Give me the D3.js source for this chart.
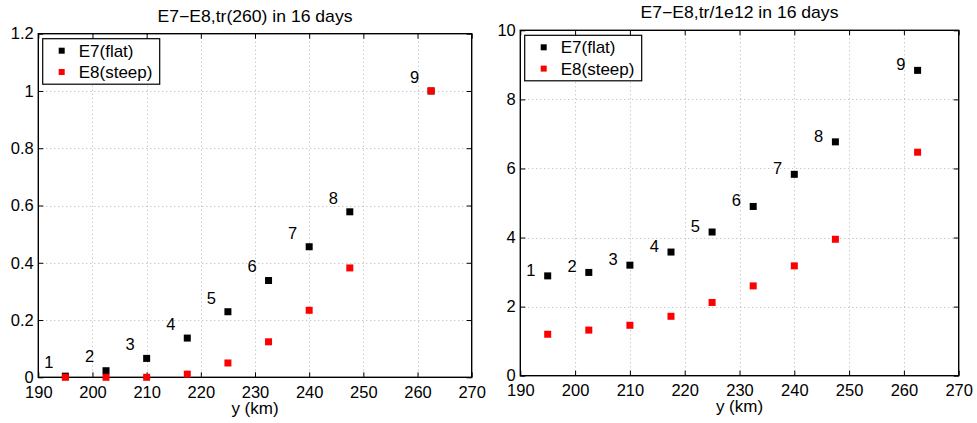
<!DOCTYPE html>
<html>
<head>
<meta charset="utf-8">
<script src="https://cdn.jsdelivr.net/npm/d3@7/dist/d3.min.js"></script>
<style>
  body { margin: 0; background: #fff; }
  svg text { font-family: "Liberation Sans", Arial, Helvetica, sans-serif; fill: #000; }
</style>
</head>
<body>
<svg id="fig" width="977" height="423"></svg>
<script>
// Cross-shore position of the nine transects (km)
const distance = [195, 202.5, 210, 217.5, 225, 232.5, 240, 247.5, 262.5];
const pointLabels = ["1", "2", "3", "4", "5", "6", "7", "8", "9"];

// Transport relative to the 260 km transect
const trRelFlat  = [0.004, 0.023, 0.066, 0.137, 0.229, 0.338, 0.456, 0.578, 1.0];
const trRelSteep = [0.0, 0.0, 0.0, 0.011, 0.050, 0.124, 0.234, 0.382, 1.0];

// Transport scaled by 1e12
const trAbsFlat  = [2.89, 2.99, 3.20, 3.58, 4.16, 4.90, 5.83, 6.77, 8.84];
const trAbsSteep = [1.20, 1.32, 1.46, 1.72, 2.12, 2.60, 3.18, 3.95, 6.47];

const xTicks = [190, 200, 210, 220, 230, 240, 250, 260, 270];
const yTicksRel = [0, 0.2, 0.4, 0.6, 0.8, 1.0, 1.2];
const yTicksAbs = [0, 2, 4, 6, 8, 10];

const seriesNames = ["E7(flat)", "E8(steep)"];
const seriesColors = ["#000000", "#ff0000"];
const panelTitles = ["E7\u2212E8,tr(260) in 16 days", "E7\u2212E8,tr/1e12 in 16 days"];
const xAxisLabel = "y (km)";

const svg = d3.select("#fig");
const fmt = d3.format("~g");
const fs = 16.5;

function drawPanel(opts) {
  const { left, top, right, bottom, yDomain, yTicks, flat, steep, title, labelDy } = opts;
  const x = d3.scaleLinear().domain([190, 270]).range([left, right]);
  const y = d3.scaleLinear().domain(yDomain).range([bottom, top]);
  const g = svg.append("g");

  // dotted grid
  const grid = g.append("g").attr("stroke", "#b4b4b4").attr("stroke-width", 1)
    .attr("stroke-dasharray", "1,3");
  grid.selectAll("line.gx").data(xTicks.slice(1, -1)).join("line")
    .attr("x1", d => Math.round(x(d)) + 0.5).attr("x2", d => Math.round(x(d)) + 0.5)
    .attr("y1", top).attr("y2", bottom);
  grid.selectAll("line.gy").data(yTicks.slice(1, -1)).join("line")
    .attr("x1", left).attr("x2", right)
    .attr("y1", d => Math.round(y(d)) + 0.5).attr("y2", d => Math.round(y(d)) + 0.5);

  // axes with inward ticks on all four sides
  const tick = 5;
  const ax = g.append("g");
  ax.append("g").attr("transform", `translate(0,${bottom})`)
    .call(d3.axisBottom(x).tickValues(xTicks).tickFormat(fmt).tickSize(-tick).tickSizeOuter(0).tickPadding(8.5));
  ax.append("g").attr("transform", `translate(0,${top})`)
    .call(d3.axisTop(x).tickValues(xTicks).tickFormat("").tickSize(-tick).tickSizeOuter(0));
  ax.append("g").attr("transform", `translate(${left},0)`)
    .call(d3.axisLeft(y).tickValues(yTicks).tickFormat(fmt).tickSize(-tick).tickSizeOuter(0).tickPadding(4.5));
  ax.append("g").attr("transform", `translate(${right},0)`)
    .call(d3.axisRight(y).tickValues(yTicks).tickFormat("").tickSize(-tick).tickSizeOuter(0));
  ax.selectAll(":scope > g").attr("font-size", fs).attr("font-family", null);
  ax.selectAll(".domain").remove();
  ax.selectAll(".tick line").attr("stroke", "#000").attr("stroke-width", 1);
  ax.selectAll("text").attr("fill", "#000");

  // frame
  g.append("rect").attr("x", left).attr("y", top)
    .attr("width", right - left).attr("height", bottom - top)
    .attr("fill", "none").attr("stroke", "#000").attr("stroke-width", 1.4);

  // markers: flat first, steep drawn on top
  const ms = 7;
  [flat, steep].forEach((vals, si) => {
    g.append("g").selectAll("rect").data(vals).join("rect")
      .attr("x", (d, i) => x(distance[i]) - ms / 2)
      .attr("y", d => y(d) - ms / 2)
      .attr("width", ms).attr("height", ms)
      .attr("fill", seriesColors[si]);
  });

  // transect numbers next to the flat-profile points
  g.append("g").attr("font-size", fs).selectAll("text").data(flat).join("text")
    .attr("x", (d, i) => x(distance[i] - 3.9))
    .attr("y", d => y(d) - labelDy)
    .attr("dy", "0.35em")
    .text((d, i) => pointLabels[i]);

  // title (slightly widened lettering) and x label
  g.append("text")
    .attr("transform", `translate(${(left + right) / 2},${top - 12}) scale(1.1,1)`)
    .attr("text-anchor", "middle").attr("font-size", 16).text(title);
  g.append("text").attr("x", (left + right) / 2).attr("y", bottom + 36.5)
    .attr("text-anchor", "middle").attr("font-size", 17).text(xAxisLabel);

  // legend
  const lg = g.append("g").attr("transform", `translate(${left + 4.4},${top + 5})`);
  lg.append("rect").attr("width", 117).attr("height", 45.5)
    .attr("fill", "#fff").attr("stroke", "#000").attr("stroke-width", 1.2);
  seriesNames.forEach((name, i) => {
    const cy = 12 + i * 21.3;
    lg.append("rect").attr("x", 19 - 3).attr("y", cy - 3).attr("width", 6).attr("height", 6)
      .attr("fill", seriesColors[i]);
    lg.append("text").attr("x", 36).attr("y", cy).attr("dy", "0.35em")
      .attr("font-size", 17).text(name);
  });
}

drawPanel({
  left: 38.3, top: 33.7, right: 471.7, bottom: 377.3,
  yDomain: [0, 1.2], yTicks: yTicksRel,
  flat: trRelFlat, steep: trRelSteep,
  title: panelTitles[0], labelDy: 14
});

drawPanel({
  left: 520.3, top: 30.3, right: 958.7, bottom: 375.7,
  yDomain: [0, 10], yTicks: yTicksAbs,
  flat: trAbsFlat, steep: trAbsSteep,
  title: panelTitles[1], labelDy: 6
});
</script>
</body>
</html>
